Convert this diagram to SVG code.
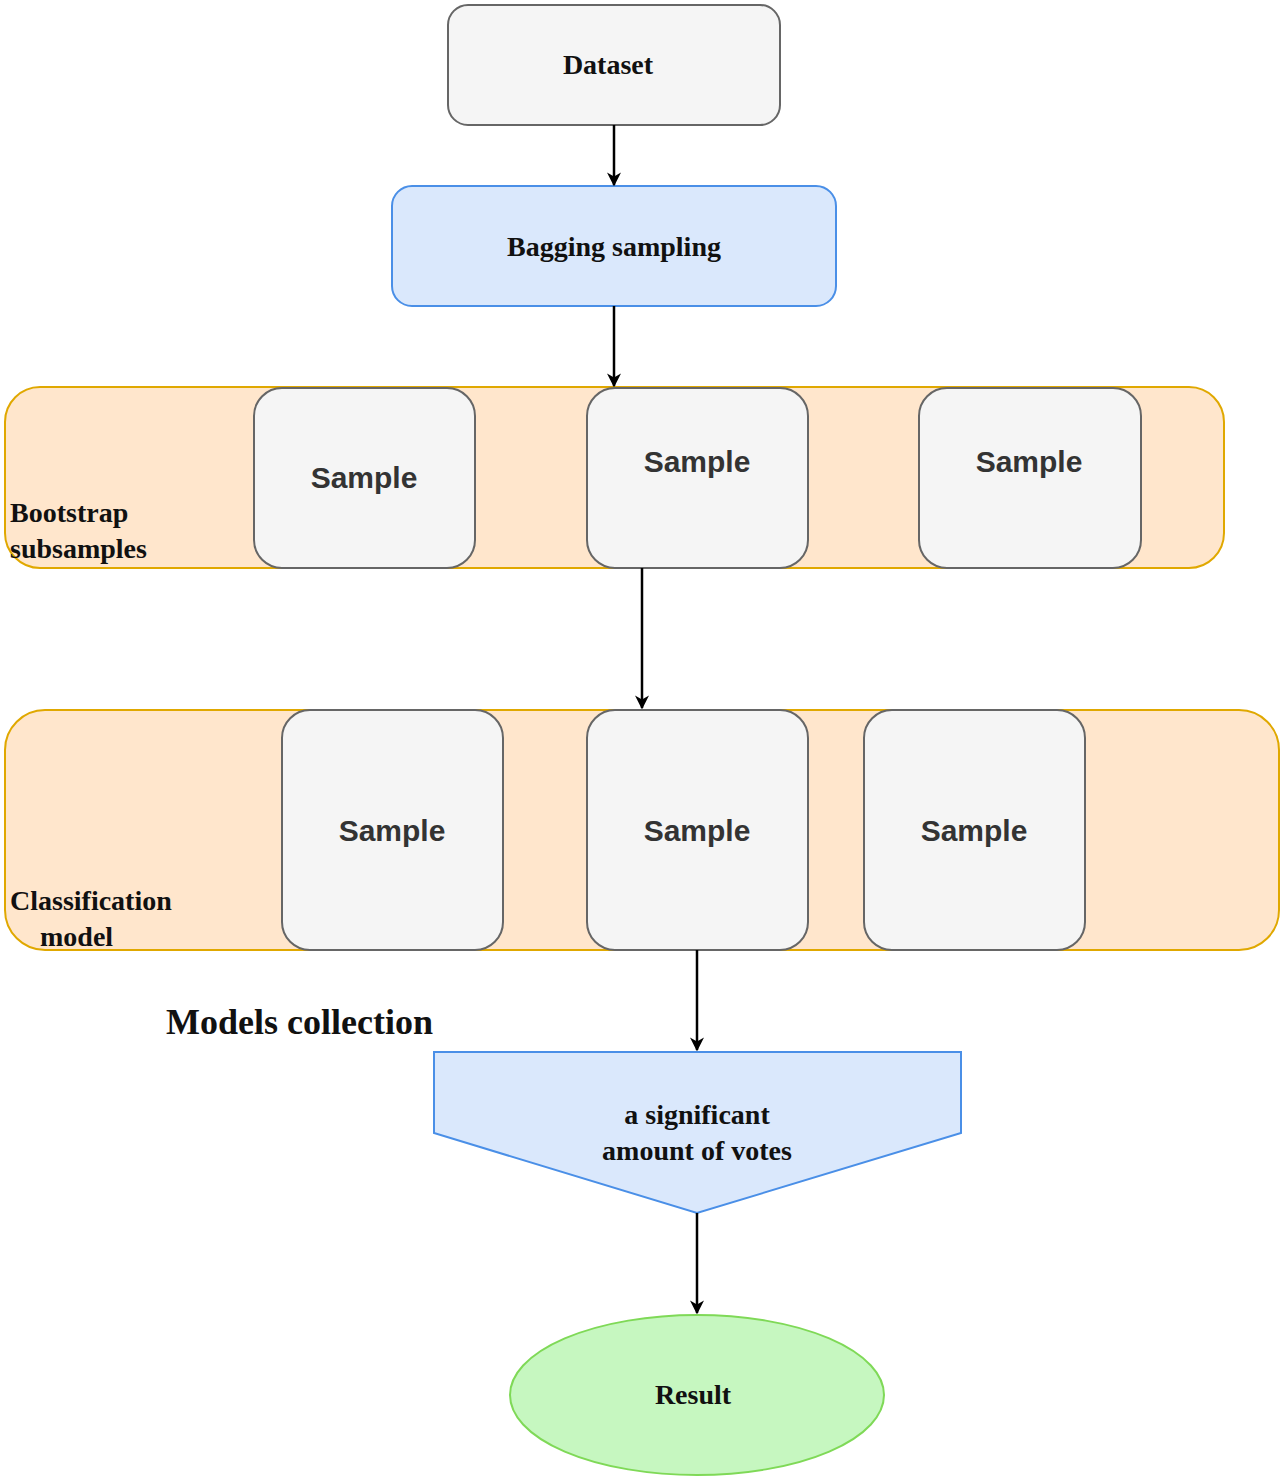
<svg xmlns="http://www.w3.org/2000/svg" width="1284" height="1480" viewBox="0 0 1284 1480">
<defs>
<marker id="ah" viewBox="0 0 10 10" refX="9" refY="5" markerWidth="7" markerHeight="7" orient="auto" markerUnits="userSpaceOnUse"><path d="M0,0 L10,5 L0,10 z" fill="#000"/></marker>
<marker id="a" viewBox="0 0 10 10" refX="9" refY="5" markerWidth="14" markerHeight="14" orient="auto" markerUnits="userSpaceOnUse"><path d="M0,0 L10,5 L0,10 L3,5 z" fill="#000"/></marker>
</defs>
<style>
.ser{font-family:"Liberation Serif",serif;font-weight:bold;fill:#111;}
.san{font-family:"Liberation Sans",sans-serif;font-weight:bold;fill:#333;font-size:30px;text-anchor:middle;}
.smp{fill:#f5f5f5;stroke:#666;stroke-width:2;}
.band{fill:#ffe6cc;stroke:#e0a800;stroke-width:2;}
.c{stroke:#000;stroke-width:2.5;fill:none;marker-end:url(#a);}
</style>
<rect width="1284" height="1480" fill="#fff"/>
<g id="dataset"><rect x="448" y="5" width="332" height="120" rx="20" fill="#f5f5f5" stroke="#666" stroke-width="2"/><text x="608" y="74" class="ser" font-size="28" text-anchor="middle" fill="#333">Dataset</text></g>
<g id="bagging"><rect x="392" y="186" width="444" height="120" rx="20" fill="#dae8fc" stroke="#4a8fe7" stroke-width="2"/><text x="614" y="256" class="ser" font-size="28" text-anchor="middle">Bagging  sampling</text></g>
<g id="band1"><rect x="5" y="387" width="1219" height="181" rx="35" class="band"/><text class="ser" font-size="28" x="10" y="522">Bootstrap</text><text class="ser" font-size="28" x="10" y="558">subsamples</text></g>
<g id="s1"><rect x="254" y="388" width="221" height="180" rx="28" class="smp"/><text x="364" y="488" class="san">Sample</text></g>
<g id="s2"><rect x="587" y="388" width="221" height="180" rx="28" class="smp"/><text x="697" y="472" class="san" fill="#000">Sample</text></g>
<g id="s3"><rect x="919" y="388" width="222" height="180" rx="28" class="smp"/><text x="1029" y="472" class="san" fill="#000">Sample</text></g>
<g id="band2"><rect x="5" y="710" width="1274" height="240" rx="40" class="band"/><text class="ser" font-size="28" x="10" y="910">Classification</text><text class="ser" font-size="28" x="40" y="946">model</text></g>
<g id="m1"><rect x="282" y="710" width="221" height="240" rx="28" class="smp"/><text x="392" y="841" class="san">Sample</text></g>
<g id="m2"><rect x="587" y="710" width="221" height="240" rx="28" class="smp"/><text x="697" y="841" class="san">Sample</text></g>
<g id="m3"><rect x="864" y="710" width="221" height="240" rx="28" class="smp"/><text x="974" y="841" class="san">Sample</text></g>
<g id="collection"><text class="ser" font-size="36" x="166" y="1034">Models collection</text></g>
<g id="votes"><path d="M434,1052 L961,1052 L961,1133 L697,1213 L434,1133 Z" fill="#dae8fc" stroke="#4a8fe7" stroke-width="2"/><text x="697" y="1124" class="ser" font-size="28" text-anchor="middle">a significant</text><text x="697" y="1160" class="ser" font-size="28" text-anchor="middle">amount of votes</text></g>
<g id="result"><ellipse cx="697" cy="1395" rx="187" ry="80" fill="#c6f7c0" stroke="#7fd957" stroke-width="2"/><text x="693" y="1404" class="ser" font-size="28" text-anchor="middle" fill="#1a3a10">Result</text></g>
<g id="connectors">
<path class="c" d="M614,125 L614,185"/>
<path class="c" d="M614,306 L614,386"/>
<path class="c" d="M642,568 L642,708"/>
<path class="c" d="M697,950 L697,1050"/>
<path class="c" d="M697,1213 L697,1313"/>
</g>
</svg>
